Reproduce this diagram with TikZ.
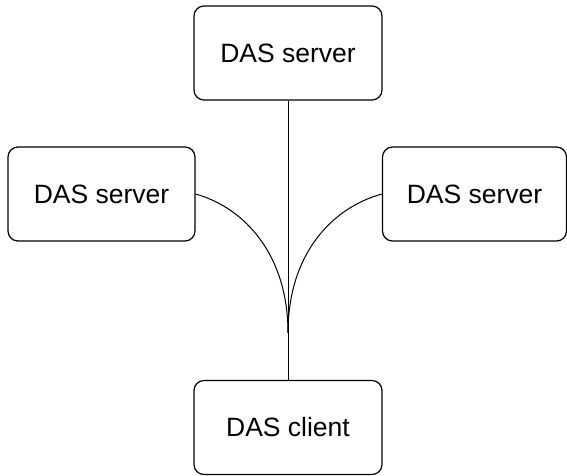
\documentclass[tikz,border=0pt]{standalone}
\usepackage{fontspec}
\setmainfont{Liberation Sans}
\begin{document}
\begin{tikzpicture}[x=1pt, y=-1pt,
  box/.style={draw, line width=1.2pt, rounded corners=10pt, minimum height=94pt,
    inner sep=0pt, font=\fontsize{26.5}{30}\selectfont},
  link/.style={line width=1pt}]
  \useasboundingbox (0,0) rectangle (567,475);

  % servers and client
  \node[box, minimum width=188pt] (srvtop) at (288,53) {DAS server};
  \node[box, minimum width=187pt] (srvleft) at (101.5,194) {DAS server};
  \node[box, minimum width=184pt] (srvright) at (474.5,194) {DAS server};
  \node[box, minimum width=188pt] (client) at (288,427.5) {DAS client};

  % links
  \coordinate (merge) at (288,333);
  \draw[link] (srvtop) -- (client);
  \draw[link] (srvleft.east) .. controls (245,208) and (288,255) .. (merge);
  \draw[link] (srvright.west) .. controls (331,208) and (288,255) .. (merge);
\end{tikzpicture}
\end{document}
